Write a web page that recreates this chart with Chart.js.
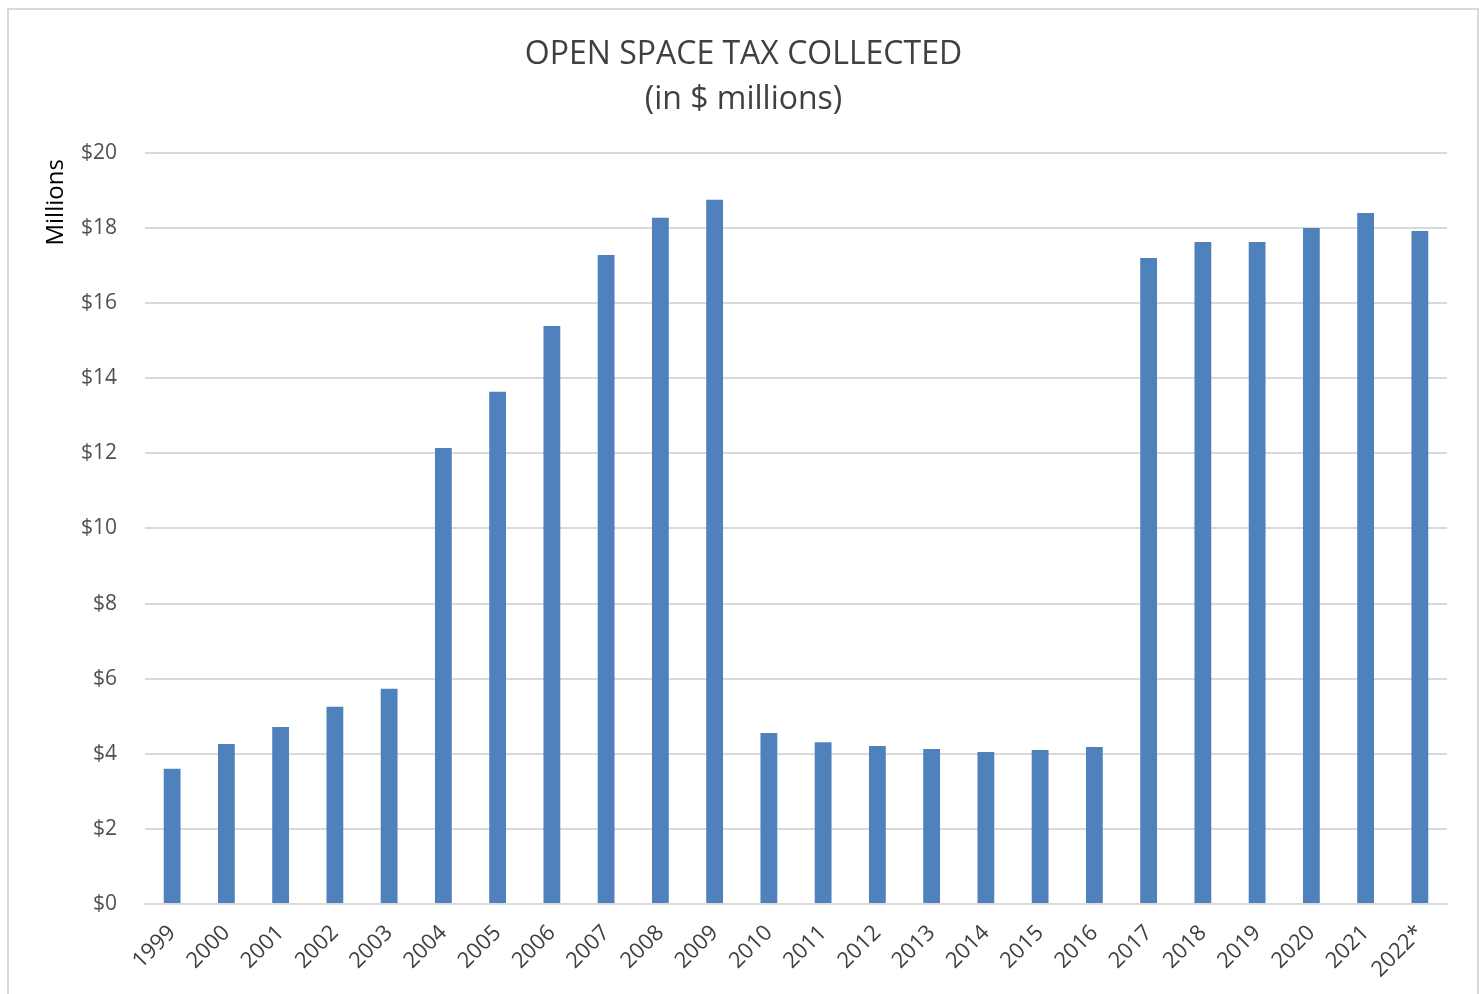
<!DOCTYPE html>
<html>
<head>
<meta charset="utf-8">
<script src="https://cdn.jsdelivr.net/npm/chart.js@4"></script>
<style>
  body { margin: 0; background: #fff; }
  #frame { position: absolute; left: 7px; top: 8px; width: 1468px; height: 1000px; border: 2px solid #d9d9d9; }
  #wrap { position: absolute; left: 0; top: 0; width: 1484px; height: 994px; }
</style>
</head>
<body>
<div id="frame"></div>
<div id="wrap"><canvas id="myChart"></canvas></div>
<script>
// Jahre und Werte (Millionen $)
const years = ['1999', '2000', '2001', '2002', '2003', '2004', '2005', '2006', '2007', '2008', '2009', '2010',
               '2011', '2012', '2013', '2014', '2015', '2016', '2017', '2018', '2019', '2020', '2021', '2022*'];
const taxCollected = [3.60, 4.26, 4.71, 5.25, 5.73, 12.14, 13.64, 15.39, 17.28, 18.27, 18.75, 4.55,
                      4.31, 4.21, 4.13, 4.05, 4.10, 4.18, 17.20, 17.63, 17.63, 18.00, 18.40, 17.92];
const yTicks = [0, 2, 4, 6, 8, 10, 12, 14, 16, 18, 20];

window.onload = function () {
    setGraph();
}

function setGraph () {
    let ctx = document.getElementById('myChart');
    new Chart(ctx, {
        type: 'bar',
        data: {
            labels: years,
            datasets: [{
                data: taxCollected,
                backgroundColor: '#4f81bd',
                barPercentage: 0.31,
                categoryPercentage: 1.0
            }]
        },
        options: {
            responsive: true,
            maintainAspectRatio: false,
            animation: false,
            layout: { padding: { left: 40, right: 37, top: 0, bottom: 0 } },
            plugins: {
                legend: { display: false },
                tooltip: { enabled: false },
                title: {
                    display: true,
                    text: ['OPEN SPACE TAX COLLECTED', '(in $ millions)'],
                    color: '#404040',
                    font: { family: 'Open Sans', size: 32, weight: 'normal', lineHeight: 1.42 },
                    padding: { top: 32, bottom: 30 }
                }
            },
            scales: {
                x: {
                    grid: { display: false, drawTicks: false },
                    border: { display: true, color: '#d9d9d9', width: 2 },
                    ticks: {
                        color: '#404040',
                        font: { family: 'Open Sans', size: 22 },
                        minRotation: 45,
                        maxRotation: 45,
                        padding: 16
                    },
                    afterFit: function (scale) { scale.height = 90; }
                },
                y: {
                    min: 0,
                    max: 20,
                    afterBuildTicks: function (scale) {
                        scale.ticks = yTicks.map(v => ({ value: v }));
                    },
                    grid: { color: '#d9d9d9', lineWidth: 2, drawTicks: false },
                    border: { display: false },
                    ticks: {
                        color: '#505050',
                        font: { family: 'Open Sans', size: 21 },
                        padding: 28,
                        callback: v => '$' + v
                    },
                    title: {
                        display: true,
                        text: 'Millions ',
                        align: 'end',
                        color: '#000',
                        font: { family: 'Open Sans', size: 24 },
                        padding: { top: 2, bottom: 0 }
                    },
                    afterFit: function (scale) { scale.width = 105; }
                }
            }
        }
    });
}
</script>
</body>
</html>
